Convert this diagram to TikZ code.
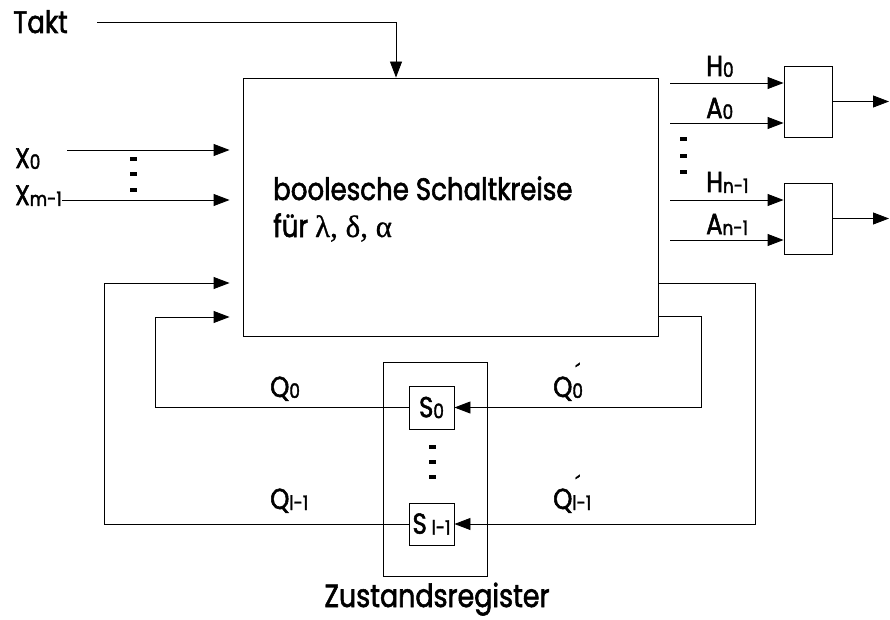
\documentclass[tikz,border=0pt]{standalone}
\usepackage{fontspec}
\setmainfont{Poppins}[FakeStretch=0.84,FakeBold=1.8]
\newfontfamily\grk{Liberation Serif}[FakeBold=0.8]
\usetikzlibrary{arrows.meta}
\newcommand{\lsub}[1]{\raisebox{-1pt}{\fontsize{20}{20}\selectfont #1}}
\newcommand{\lsubp}[1]{\rlap{\raisebox{17pt}{\fontsize{22}{22}\selectfont\kern3pt ´}}\lsub{#1}}
\begin{document}
\begin{tikzpicture}[x=1pt,y=-1pt,
  ln/.style={line width=0.9pt},
  arr/.style={line width=0.9pt,-{Triangle[length=16pt,width=12pt]}},
  box/.style={draw,line width=0.9pt,inner sep=0pt},
  lbl/.style={inner sep=0pt,font=\fontsize{31}{33}\selectfont},
  slbl/.style={inner sep=0pt,font=\fontsize{29}{31}\selectfont},
  xlbl/.style={inner sep=0pt,font=\fontsize{28}{30}\selectfont},
  dotmark/.style={fill=black}]
\useasboundingbox (0,0) rectangle (890,620);

% main block
\node[box,minimum width=415pt,minimum height=258pt] (main) at (450.5,207) {};
\node[lbl,anchor=base west] (t1) at (273,200) {boolesche Schaltkreise};
\node[lbl,anchor=base west] (t2) at (273,237) {für {\grk λ, δ, α}};

% clock
\node[lbl,anchor=base west] (takt) at (13,33) {Takt};
\coordinate (taktL) at (97,22);
\coordinate (clkx) at (396,0);
\draw[arr] (taktL) -| (main.north -| clkx);

% inputs
\node[xlbl,anchor=base west] (x0) at (15,168) {X\lsub{0}};
\node[xlbl,anchor=base west] (xm) at (15,205) {X\lsub{m-1}};
\coordinate (x0s) at (67,150);
\coordinate (xms) at (62,200);
\draw[arr,shorten >=13pt] (x0s) -- (x0s -| main.west);
\draw[arr,shorten >=13pt] (xms) -- (xms -| main.west);
\fill[dotmark] (129.5,157) rectangle +(7,4);
\fill[dotmark] (129.5,172) rectangle +(7,4);
\fill[dotmark] (129.5,188) rectangle +(7,4);

% output gates
\node[box,minimum width=48pt,minimum height=71pt] (g1) at (808,101.5) {};
\node[box,minimum width=48pt,minimum height=71pt] (g2) at (808,218.5) {};
\coordinate (h0) at (670,83);
\coordinate (a0) at (670,123);
\coordinate (hn) at (670,200);
\coordinate (an) at (670,240);
\coordinate (redge) at (889,0);
\draw[arr] (h0) -- (h0 -| g1.west);
\draw[arr] (a0) -- (a0 -| g1.west);
\draw[arr] (hn) -- (hn -| g2.west);
\draw[arr] (an) -- (an -| g2.west);
\draw[arr] (g1.east) -- (g1.east -| redge);
\draw[arr] (g2.east) -- (g2.east -| redge);
\node[slbl,anchor=base west] (lh0) at (706,76) {H\lsub{0}};
\node[slbl,anchor=base west] (la0) at (706,118) {A\lsub{0}};
\node[slbl,anchor=base west] (lhn) at (706,192) {H\lsub{n-1}};
\node[slbl,anchor=base west] (lan) at (706,234) {A\lsub{n-1}};
\fill[dotmark] (679.5,137) rectangle +(7,4);
\fill[dotmark] (679.5,154) rectangle +(7,4);
\fill[dotmark] (679.5,170) rectangle +(7,4);

% state register
\node[box,minimum width=104pt,minimum height=214pt] (reg) at (435,469) {};
\node[box,minimum width=45pt,minimum height=43pt,slbl] (S0) at (431.5,407.5) {S\lsub{0}};
\node[box,minimum width=45pt,minimum height=42pt,slbl] (Sl) at (431.5,524) {S\,\lsub{l-1}};
\fill[dotmark] (428.5,445) rectangle +(7,4);
\fill[dotmark] (428.5,460) rectangle +(7,4);
\fill[dotmark] (428.5,475) rectangle +(7,4);
\node[inner sep=0pt,font=\fontsize{32}{34}\selectfont,anchor=base] (zr) at (437,607) {Zustandsregister};

% feedback
\coordinate (fbo) at (104,283);
\coordinate (fbi) at (155,317);
\coordinate (rbo) at (755,283);
\coordinate (rbi) at (701,316);
\draw[arr,shorten >=13pt] (Sl.west) -| (fbo) -- (fbo -| main.west);
\draw[arr,shorten >=13pt] (S0.west) -| (fbi) -- (fbi -| main.west);
\draw[arr] (rbo -| main.east) -- (rbo) |- (Sl.east);
\draw[arr] (rbi -| main.east) -- (rbi) |- (S0.east);
\node[slbl,anchor=base west] (q0) at (270,397) {Q\lsub{0}};
\node[slbl,anchor=base west] (q0p) at (553,397) {Q\lsubp{0}};
\node[slbl,anchor=base west] (ql) at (270,509) {Q\lsub{l-1}};
\node[slbl,anchor=base west] (qlp) at (553,509) {Q\lsubp{l-1}};
\end{tikzpicture}
\end{document}
